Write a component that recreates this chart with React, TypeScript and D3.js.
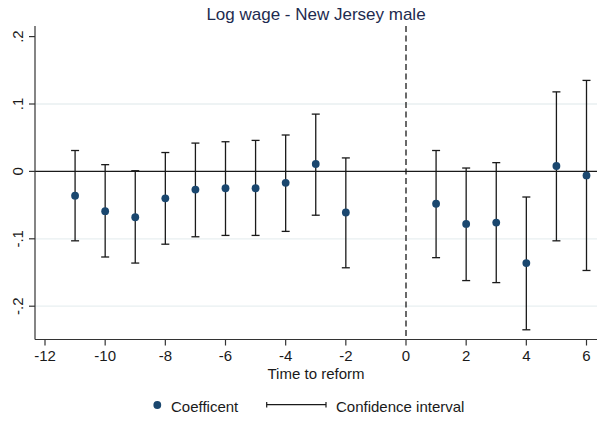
import React from "react";
import * as d3 from "d3";

// Event-study estimates: log wage, New Jersey males
const periods = [-11, -10, -9, -8, -7, -6, -5, -4, -3, -2, 1, 2, 3, 4, 5, 6];
const coefficients = [-0.036, -0.059, -0.068, -0.040, -0.027, -0.025, -0.025, -0.017, 0.011, -0.061, -0.048, -0.078, -0.076, -0.136, 0.008, -0.006];
const ciLower = [-0.103, -0.127, -0.136, -0.108, -0.097, -0.095, -0.095, -0.089, -0.065, -0.143, -0.128, -0.162, -0.165, -0.235, -0.103, -0.147];
const ciUpper = [0.031, 0.010, 0.001, 0.028, 0.042, 0.044, 0.046, 0.054, 0.085, 0.020, 0.031, 0.005, 0.013, -0.038, 0.118, 0.135];

const xTicks = [-12, -10, -8, -6, -4, -2, 0, 2, 4, 6];
const yTicks = [0.2, 0.1, 0, -0.1, -0.2];
const yTickLabels = [".2", ".1", "0", "-.1", "-.2"];
const gridValues = [0.1, -0.1, -0.2];

const title = "Log wage - New Jersey male";
const xTitle = "Time to reform";
const legendLabels = ["Coefficent", "Confidence interval"];

const W = 597;
const H = 421;
const left = 35;
const right = 597;
const top = 26;
const bottom = 339.5;
const font = "'Liberation Sans', Arial, Helvetica, sans-serif";
const navy = "#1a476f";
const ink = "#1a1a1a";

export default function App() {
  const x = d3.scaleLinear().domain([-12, 6]).range([45, 586.5]);
  const y = d3.scaleLinear().domain([0, 0.1]).range([171.4, 104]);

  return (
    <svg
      width={W}
      height={H}
      style={{ position: "absolute", left: 0, top: 0, background: "#fff" }}
      fontFamily={font}
    >
      <rect x={0} y={0} width={W} height={H} fill="#fff" />
      <text x={(left + right) / 2} y={20} textAnchor="middle" fontSize={17} fill="#1e2b4f">
        {title}
      </text>

      {/* horizontal gridlines */}
      {gridValues.map((v) => (
        <line key={v} x1={left} x2={right} y1={y(v)} y2={y(v)} stroke="#e8eff1" strokeWidth={1.3} />
      ))}

      {/* reference lines */}
      <line x1={left} x2={right} y1={y(0)} y2={y(0)} stroke={ink} strokeWidth={1.3} />
      <line
        x1={x(0)}
        x2={x(0)}
        y1={top}
        y2={bottom}
        stroke={ink}
        strokeWidth={1.3}
        strokeDasharray="6,3.5"
      />

      {/* confidence intervals */}
      {periods.map((p, i) => {
        const cx = x(p);
        return (
          <g key={p} stroke={ink} strokeWidth={1.3}>
            <line x1={cx} x2={cx} y1={y(ciUpper[i])} y2={y(ciLower[i])} />
            <line x1={cx - 4} x2={cx + 4} y1={y(ciUpper[i])} y2={y(ciUpper[i])} />
            <line x1={cx - 4} x2={cx + 4} y1={y(ciLower[i])} y2={y(ciLower[i])} />
          </g>
        );
      })}

      {/* point estimates */}
      {periods.map((p, i) => (
        <circle key={p} cx={x(p)} cy={y(coefficients[i])} r={3.9} fill={navy} />
      ))}

      {/* y axis */}
      <line x1={left} x2={left} y1={top} y2={bottom} stroke="#333" strokeWidth={1.2} />
      {yTicks.map((v, i) => (
        <g key={v}>
          <line x1={left - 6} x2={left} y1={y(v)} y2={y(v)} stroke="#333" strokeWidth={1.2} />
          <text
            transform={`translate(${22.5},${y(v)}) rotate(-90)`}
            textAnchor="middle"
            fontSize={15}
            fill={ink}
          >
            {yTickLabels[i]}
          </text>
        </g>
      ))}

      {/* x axis */}
      <line x1={left} x2={right} y1={bottom} y2={bottom} stroke="#333" strokeWidth={1.2} />
      {xTicks.map((v) => (
        <g key={v}>
          <line x1={x(v)} x2={x(v)} y1={bottom} y2={bottom + 6} stroke="#333" strokeWidth={1.2} />
          <text x={x(v)} y={361} textAnchor="middle" fontSize={15} fill={ink}>
            {d3.format("d")(v).replace("−", "-")}
          </text>
        </g>
      ))}
      <text x={(left + right) / 2} y={378.5} textAnchor="middle" fontSize={15} fill={ink}>
        {xTitle}
      </text>

      {/* legend */}
      <circle cx={157.3} cy={405} r={3.9} fill={navy} />
      <text x={171} y={412} fontSize={15} fill={ink}>
        {legendLabels[0]}
      </text>
      <g stroke={ink} strokeWidth={1.2}>
        <line x1={266.7} x2={326} y1={404.7} y2={404.7} />
        <line x1={266.7} x2={266.7} y1={402} y2={407.5} />
        <line x1={326} x2={326} y1={402} y2={407.5} />
      </g>
      <text x={336} y={412} fontSize={15} fill={ink}>
        {legendLabels[1]}
      </text>
    </svg>
  );
}
